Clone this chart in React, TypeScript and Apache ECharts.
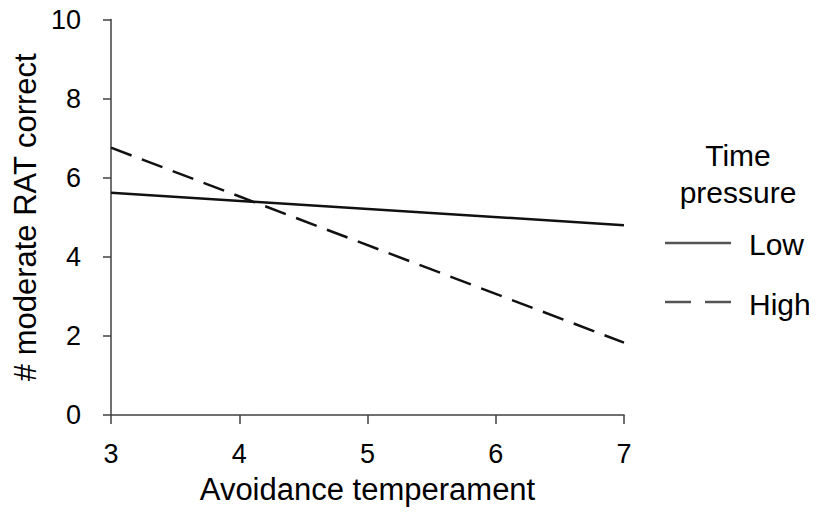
import React, { useEffect, useRef } from "react";
import * as echarts from "echarts";

const xTicks = [3, 4, 5, 6, 7];
const yTicks = [0, 2, 4, 6, 8, 10];
const seriesNames = ["Low", "High"];
const lowValues: [number, number][] = [[3, 5.62], [7, 4.8]];
const highValues: [number, number][] = [[3, 6.76], [7, 1.83]];
const legendTitle = ["Time", "pressure"];
const xName = "Avoidance temperament";
const yName = "# moderate RAT correct";

const FONT = "Liberation Sans, Arial, sans-serif";

export default function App() {
  const ref = useRef<HTMLDivElement>(null);
  useEffect(() => {
    if (!ref.current) return;
    const chart = echarts.init(ref.current, null, { renderer: "svg" });
    const axisColor = "#404040";
    chart.setOption({
      animation: false,
      backgroundColor: "#ffffff",
      grid: { left: 111, right: 193, top: 19.5, bottom: 101, containLabel: false, outerBoundsMode: "none" },
      xAxis: {
        type: "value",
        min: xTicks[0],
        max: xTicks[xTicks.length - 1],
        interval: 1,
        name: xName,
        nameLocation: "middle",
        nameGap: 59,
        nameMoveOverlap: false,
        nameTextStyle: { fontFamily: FONT, fontSize: 31, color: "#000" },
        axisLine: { show: true, lineStyle: { color: axisColor, width: 1.5 } },
        axisTick: { show: true, inside: false, length: 9, lineStyle: { color: axisColor, width: 1.5 } },
        axisLabel: { fontFamily: FONT, fontSize: 27, color: "#000", margin: 25 },
        splitLine: { show: false },
      },
      yAxis: {
        type: "value",
        min: yTicks[0],
        max: yTicks[yTicks.length - 1],
        interval: 2,
        name: yName,
        nameLocation: "middle",
        nameGap: 70,
        nameRotate: 90,
        nameMoveOverlap: false,
        nameTextStyle: { fontFamily: FONT, fontSize: 31, color: "#000" },
        axisLine: { show: true, lineStyle: { color: axisColor, width: 1.5 } },
        axisTick: { show: true, inside: false, length: 8, lineStyle: { color: axisColor, width: 1.5 } },
        axisLabel: { fontFamily: FONT, fontSize: 27, color: "#000", margin: 30 },
        splitLine: { show: false },
      },
      series: [
        {
          name: seriesNames[0],
          type: "line",
          data: lowValues,
          showSymbol: false,
          symbol: "none",
          lineStyle: { color: "#111", width: 2.5, type: "solid" },
        },
        {
          name: seriesNames[1],
          type: "line",
          data: highValues,
          showSymbol: false,
          symbol: "none",
          lineStyle: { color: "#111", width: 2.5, type: [22, 11] },
        },
      ],
      graphic: [
        {
          type: "text",
          x: 738,
          y: 155,
          style: { text: legendTitle[0], fontFamily: FONT, fontSize: 30, fill: "#000", align: "center", verticalAlign: "middle" },
        },
        {
          type: "text",
          x: 738,
          y: 192,
          style: { text: legendTitle[1], fontFamily: FONT, fontSize: 30, fill: "#000", align: "center", verticalAlign: "middle" },
        },
        {
          type: "line",
          shape: { x1: 665, y1: 243, x2: 731, y2: 243 },
          style: { stroke: "#555", lineWidth: 2.5 },
        },
        {
          type: "text",
          x: 749,
          y: 244,
          style: { text: seriesNames[0], fontFamily: FONT, fontSize: 30, fill: "#000", align: "left", verticalAlign: "middle" },
        },
        {
          type: "line",
          shape: { x1: 665, y1: 302, x2: 731, y2: 302 },
          style: { stroke: "#555", lineWidth: 2.5, lineDash: [26, 14] },
        },
        {
          type: "text",
          x: 749,
          y: 304,
          style: { text: seriesNames[1], fontFamily: FONT, fontSize: 30, fill: "#000", align: "left", verticalAlign: "middle" },
        },
      ],
    });
    return () => chart.dispose();
  }, []);
  return <div ref={ref} style={{ width: 817, height: 516, margin: -8 }} />;
}
